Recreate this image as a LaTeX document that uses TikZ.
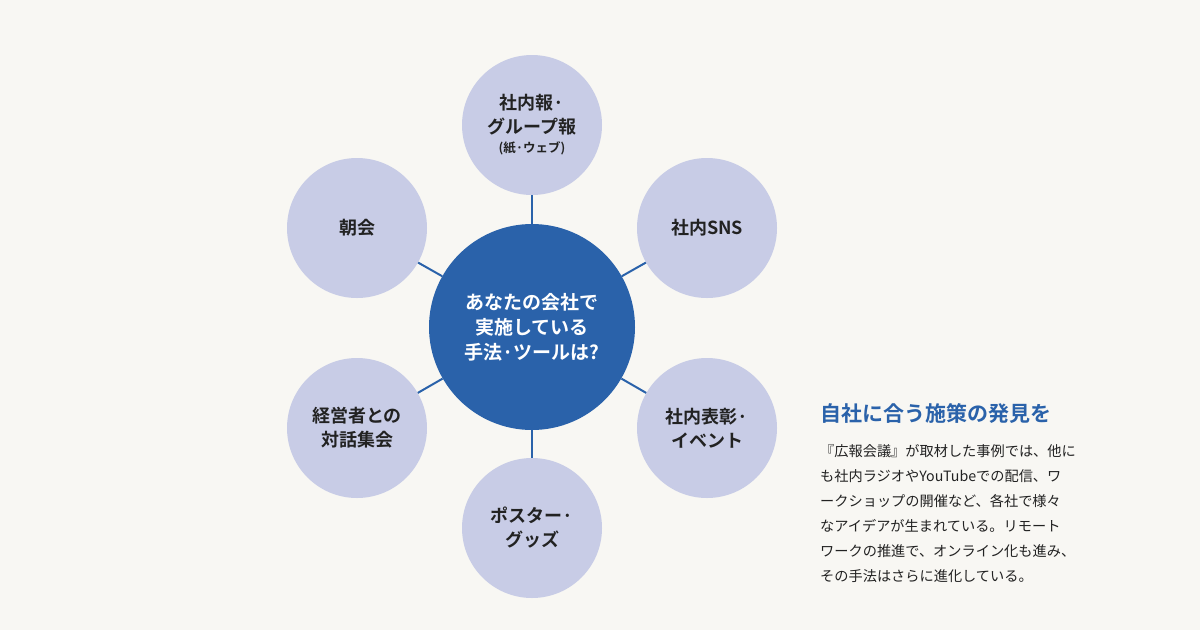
\documentclass[tikz,border=0pt]{standalone}
\usepackage{fontspec}
\setmainfont{Noto Sans CJK JP}[BoldFont={Noto Sans CJK JP Bold}]
\definecolor{bg}{HTML}{F8F7F3}
\definecolor{outer}{HTML}{C8CCE6}
\definecolor{mainblue}{HTML}{2A62AA}
\definecolor{txt}{HTML}{222222}
\begin{document}
\begin{tikzpicture}[x=1pt,y=-1pt,
  sat/.style={circle,fill=outer,minimum size=140pt,inner sep=0pt,align=center,font=\fontsize{18}{24}\selectfont\bfseries,text=txt},
  hub/.style={circle,fill=mainblue,minimum size=206pt,inner sep=0pt,align=center,font=\fontsize{19}{25}\selectfont\bfseries,text=white},
  link/.style={draw=mainblue,line width=2pt}]
\fill[bg] (0,0) rectangle (1200,630);
\node[hub] (c) at (532,327) {あなたの会社で\\実施している\\手法·ツールは?};
\node[sat] (t) at (532,125) {社内報·\\グループ報\\[-5pt]{\fontsize{12.5}{14}\selectfont (紙·ウェブ)}};
\node[sat] (ur) at (707,228) {社内SNS};
\node[sat] (lr) at (707,428) {社内表彰·\\イベント};
\node[sat] (b) at (532,528) {ポスター·\\グッズ};
\node[sat] (ll) at (357,428) {経営者との\\対話集会};
\node[sat] (ul) at (357,228) {朝会};
\foreach \n in {t,ur,lr,b,ll,ul}{\path[link] (c) -- (\n);}
\node[anchor=west,text=mainblue,font=\fontsize{21}{24}\selectfont\bfseries,inner sep=0pt] (title) at (820,413) {自社に合う施策の発見を};
\node[anchor=north west,text=txt,align=left,inner sep=0pt,font=\fontsize{14.2}{25}\selectfont] (body) at (820,444)
{『広報会議』が取材した事例では、他に\\も社内ラジオやYouTubeでの配信、ワ\\ークショップの開催など、各社で様々\\なアイデアが生まれている。リモート\\ワークの推進で、オンライン化も進み、\\その手法はさらに進化している。};
\end{tikzpicture}
\end{document}
